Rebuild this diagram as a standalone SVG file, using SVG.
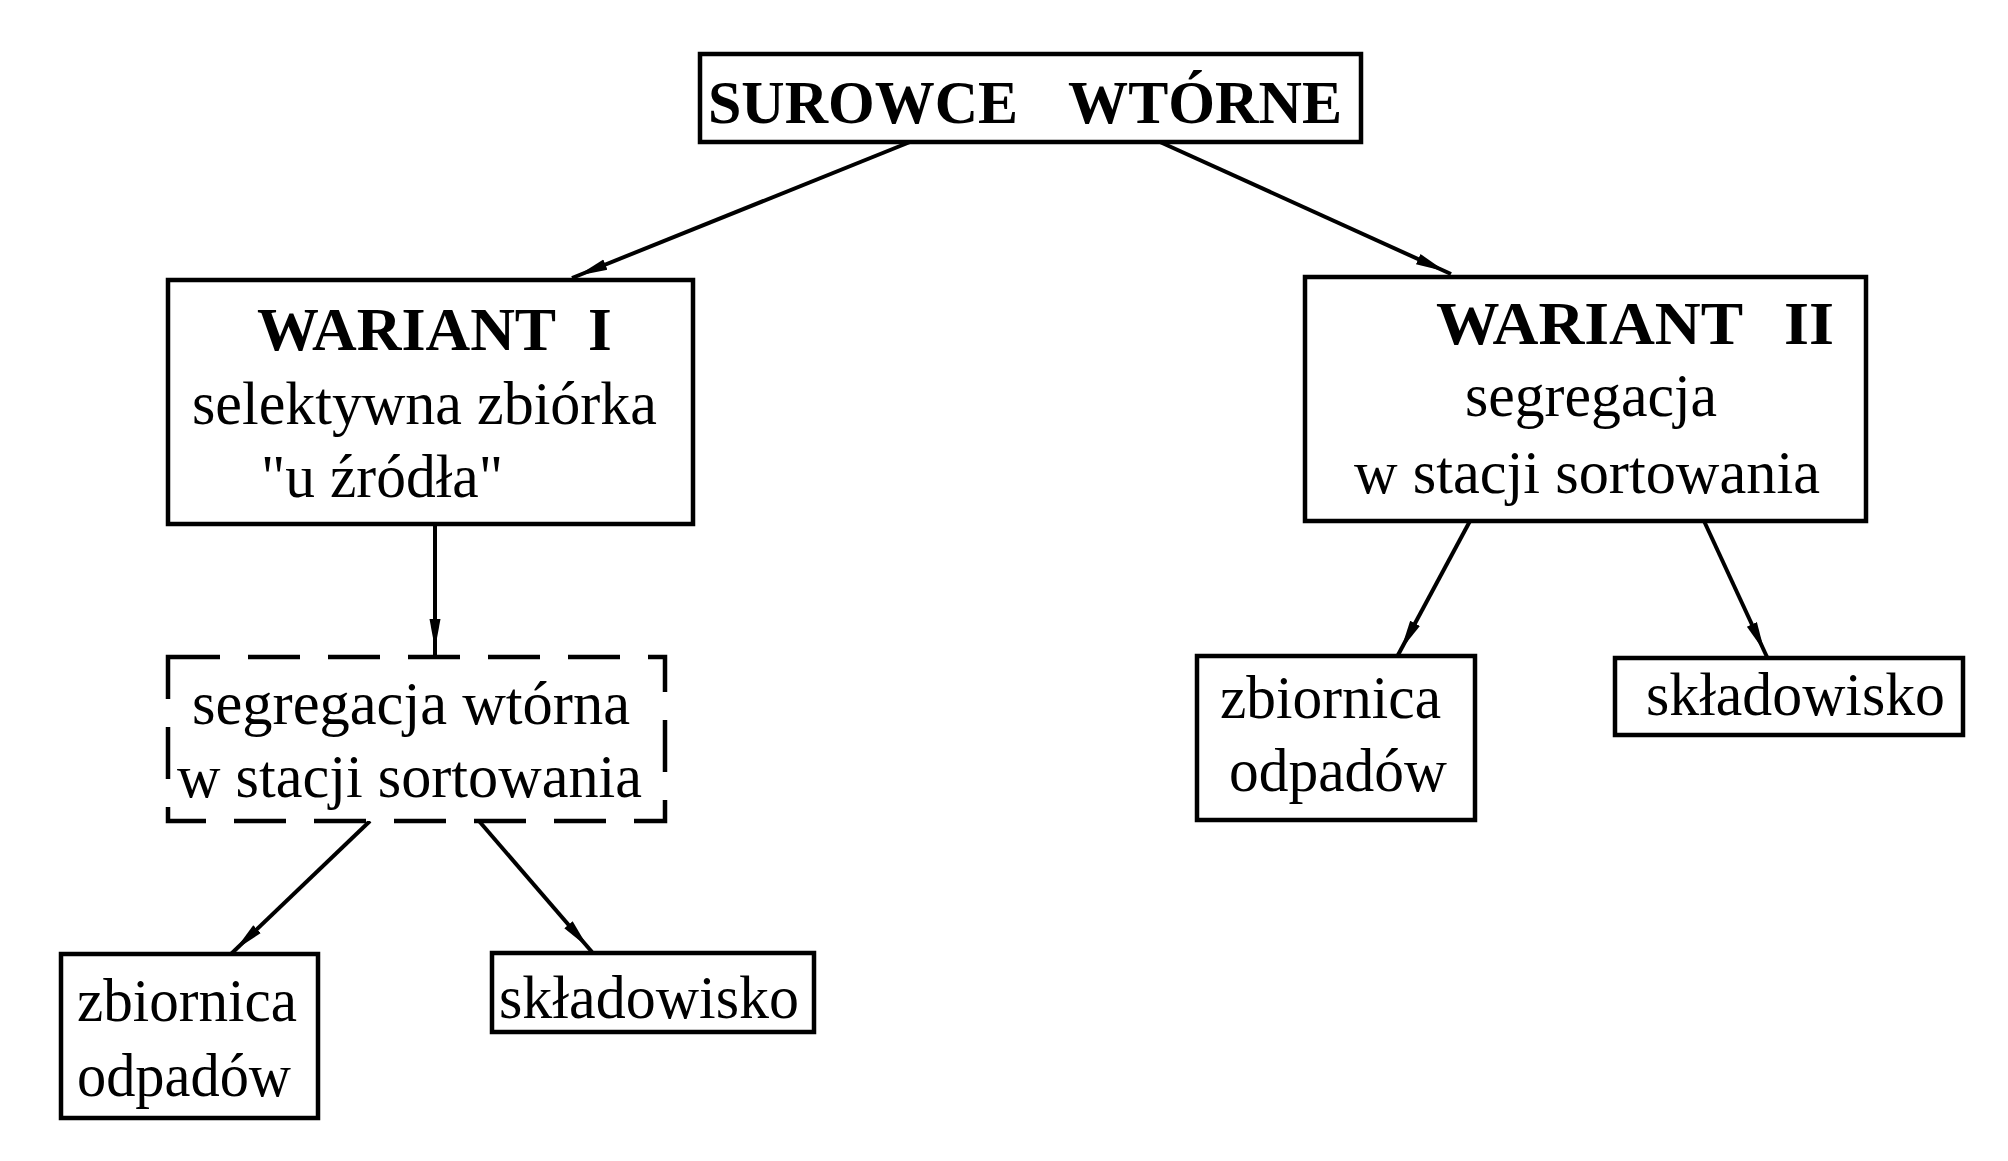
<svg xmlns="http://www.w3.org/2000/svg" width="2008" height="1161" viewBox="0 0 2008 1161">
<defs>
<style>
.box{fill:#fff;stroke:#000;stroke-width:4.5}
.dash{fill:#fff;stroke:#000;stroke-width:4.5;stroke-dasharray:52 28}
.t{font-family:"Liberation Serif","Times New Roman",serif;font-size:61px;fill:#000}
.b{font-family:"Liberation Serif","Times New Roman",serif;font-size:61px;font-weight:bold;fill:#000}
.c{stroke:#000;stroke-width:4;fill:none;marker-end:url(#ah)}
</style>
<marker id="ah" viewBox="0 0 40 14" markerWidth="40" markerHeight="14" refX="36" refY="7" orient="auto" markerUnits="userSpaceOnUse">
<path d="M0,1.5 L30,7 L0,12.5 z" fill="#000"/>
</marker>
</defs>
<rect width="2008" height="1161" fill="#fff"/>
<g id="connectors">
<line class="c" x1="910" y1="142" x2="572" y2="278"/>
<line class="c" x1="1160" y1="142" x2="1451" y2="274"/>
<line class="c" x1="435" y1="524" x2="435" y2="655"/>
<line class="c" x1="370" y1="821" x2="231" y2="954"/>
<line class="c" x1="479" y1="821" x2="592" y2="952"/>
<line class="c" x1="1470" y1="521" x2="1398" y2="655"/>
<line class="c" x1="1704" y1="521" x2="1767" y2="657"/>
</g>
<g id="surowce">
<rect class="box" x="700" y="54" width="661" height="88"/>
<text class="b" y="123"><tspan x="708" textLength="310" lengthAdjust="spacingAndGlyphs">SUROWCE</tspan> <tspan x="1068" textLength="274" lengthAdjust="spacingAndGlyphs">WTÓRNE</tspan></text>
</g>
<g id="wariant1">
<rect class="box" x="168" y="280" width="525" height="244"/>
<text class="b" y="350"><tspan x="257" textLength="298" lengthAdjust="spacingAndGlyphs">WARIANT</tspan> <tspan x="588">I</tspan></text>
<text class="t" x="192" y="424" textLength="465" lengthAdjust="spacingAndGlyphs">selektywna zbiórka</text>
<text class="t" x="261" y="497" textLength="242" lengthAdjust="spacingAndGlyphs">"u źródła"</text>
</g>
<g id="wariant2">
<rect class="box" x="1305" y="277" width="561" height="244"/>
<text class="b" y="344"><tspan x="1436" textLength="306" lengthAdjust="spacingAndGlyphs">WARIANT</tspan> <tspan x="1784" textLength="50" lengthAdjust="spacingAndGlyphs">II</tspan></text>
<text class="t" x="1465" y="416" textLength="252" lengthAdjust="spacingAndGlyphs">segregacja</text>
<text class="t" x="1354" y="493" textLength="466" lengthAdjust="spacingAndGlyphs">w stacji sortowania</text>
</g>
<g id="segregacja-wtorna">
<rect class="dash" x="168" y="657" width="497" height="164"/>
<text class="t" x="192" y="724" textLength="438" lengthAdjust="spacingAndGlyphs">segregacja wtórna</text>
<text class="t" x="177" y="797" textLength="465" lengthAdjust="spacingAndGlyphs">w stacji sortowania</text>
</g>
<g id="zbiornica1">
<rect class="box" x="61" y="954" width="257" height="164"/>
<text class="t" x="77" y="1021" textLength="220" lengthAdjust="spacingAndGlyphs">zbiornica</text>
<text class="t" x="77" y="1096" textLength="214" lengthAdjust="spacingAndGlyphs">odpadów</text>
</g>
<g id="skladowisko1">
<rect class="box" x="492" y="953" width="322" height="79"/>
<text class="t" x="499" y="1018" textLength="300" lengthAdjust="spacingAndGlyphs">składowisko</text>
</g>
<g id="zbiornica2">
<rect class="box" x="1197" y="656" width="278" height="164"/>
<text class="t" x="1220" y="718" textLength="221" lengthAdjust="spacingAndGlyphs">zbiornica</text>
<text class="t" x="1229" y="791" textLength="218" lengthAdjust="spacingAndGlyphs">odpadów</text>
</g>
<g id="skladowisko2">
<rect class="box" x="1615" y="658" width="348" height="77"/>
<text class="t" x="1646" y="715" textLength="299" lengthAdjust="spacingAndGlyphs">składowisko</text>
</g>
</svg>
